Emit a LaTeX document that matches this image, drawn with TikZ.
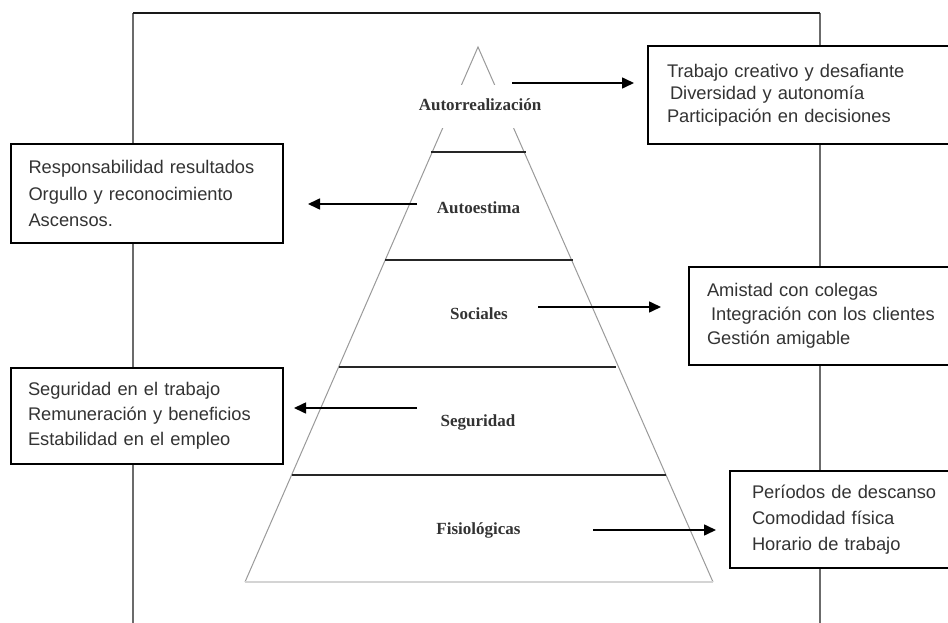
\documentclass[tikz,border=0pt]{standalone}
\usepackage{fontspec}
\setmainfont{Liberation Sans}
\newfontfamily\labelfont{Liberation Serif}
\usetikzlibrary{arrows.meta}
\definecolor{textgray}{HTML}{333333}
\definecolor{framegray}{HTML}{6B6B6B}
\definecolor{sidegray}{HTML}{9A9A9A}
\definecolor{basegray}{HTML}{D4D4D4}
\begin{document}
\begin{tikzpicture}[x=1pt,y=-1pt,
  infobox/.style={draw=black,line width=2pt,fill=white,anchor=north west,align=left,text=textgray,inner ysep=2pt},
  level/.style={font=\labelfont\bfseries\fontsize{17}{20}\selectfont,text=textgray,text height=12pt,text depth=4pt,inner sep=1pt},
  conn/.style={line width=1.6pt,-{Triangle[length=12pt,width=11pt]}},
  side/.style={draw=sidegray,line width=1pt},
  divider/.style={draw=black!85,line width=1.5pt},
  frameline/.style={draw=framegray,line width=2pt}]
\useasboundingbox (0,0) rectangle (948,623);
\clip (0,0) rectangle (948,623);
\fill[white] (0,0) rectangle (948,623);
% frame
\coordinate (fbl) at (133,630);
\coordinate (ftl) at (133,13);
\coordinate (ftr) at (820,13);
\coordinate (fbr) at (820,630);
\draw[frameline] (fbl) -- (ftl);
\draw[frameline] (ftr) -- (fbr);
\draw[line width=2pt,black!90] (ftl) -- (ftr);
% pyramid
\coordinate (apex) at (478,47);
\coordinate (bl) at (245,582);
\coordinate (br) at (713,582);
\draw[side] (bl) -- (apex) -- (br);
\draw[draw=basegray,line width=1.5pt] (bl) -- (br);
\draw[divider] (431,152) -- (526,152);
\draw[divider] (385,260) -- (573,260);
\draw[divider] (339,367) -- (616,367);
\draw[divider] (292,475) -- (666,475);
% level labels
\node[level,fill=white,minimum height=43pt] (l1) at (480,107) {Autorrealización};
\node[level] (l2) at (478.5,209.5) {Autoestima};
\node[level] (l3) at (479,315.5) {Sociales};
\node[level] (l4) at (478,422.5) {Seguridad};
\node[level] (l5) at (478.5,530.5) {Fisiológicas};
% arrows
\coordinate (a1s) at (512,83);  \coordinate (a1e) at (634,83);
\coordinate (a2s) at (417,204); \coordinate (a2e) at (308,204);
\coordinate (a3s) at (538,307); \coordinate (a3e) at (661,307);
\coordinate (a4s) at (417,408); \coordinate (a4e) at (294,408);
\coordinate (a5s) at (593,530); \coordinate (a5e) at (716,530);
\draw[conn] (a1s) -- (a1e);
\draw[conn] (a2s) -- (a2e);
\draw[conn] (a3s) -- (a3e);
\draw[conn] (a4s) -- (a4e);
\draw[conn] (a5s) -- (a5e);
% boxes
\node[infobox,font=\fontsize{18.3}{22.5}\selectfont,inner xsep=19pt,text width=280pt,minimum height=98pt] (b1) at (647,45)
  {Trabajo creativo y desafiante\\\hspace*{3pt}Diversidad y autonomía\\Participación en decisiones};
\node[infobox,font=\fontsize{18.3}{26.5}\selectfont,inner xsep=17.5pt,text width=237pt,minimum height=99pt] (b2) at (10,143)
  {Responsabilidad resultados\\Orgullo y reconocimiento\\Ascensos.};
\node[infobox,font=\fontsize{18.3}{24}\selectfont,inner xsep=18pt,text width=280pt,minimum height=98pt] (b3) at (688,266)
  {Amistad con colegas\\\hspace*{4pt}Integración con los clientes\\Gestión amigable};
\node[infobox,font=\fontsize{18.3}{25}\selectfont,inner xsep=17pt,text width=238pt,minimum height=96pt] (b4) at (10,367)
  {Seguridad en el trabajo\\Remuneración y beneficios\\Estabilidad en el empleo};
\node[infobox,font=\fontsize{18.3}{26}\selectfont,inner xsep=22pt,text width=280pt,minimum height=97pt] (b5) at (729,470)
  {Períodos de descanso\\Comodidad física\\Horario de trabajo};
\end{tikzpicture}
\end{document}
